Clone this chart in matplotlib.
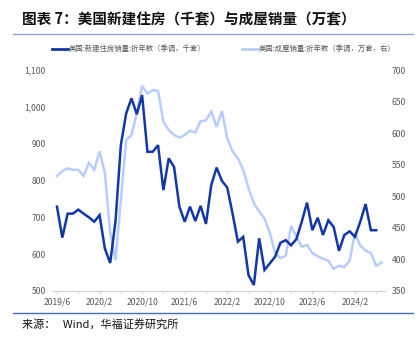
import matplotlib
matplotlib.use("Agg")
import matplotlib.pyplot as plt
from matplotlib.lines import Line2D
import numpy as np

plt.rcParams['font.family'] = ['Noto Sans CJK SC', 'DejaVu Sans']

# Monthly data 2019/6 .. 2024/7
new_home_sales = [729, 645, 710, 710, 721, 710, 700, 688, 706, 615,
                  576, 690, 896, 982, 1023, 980, 1032, 878, 878, 896,
                  774, 860, 837, 729, 688, 729, 690, 731, 682, 788,
                  835, 799, 781, 710, 634, 647, 543, 516, 643, 557,
                  575, 593, 631, 638, 624, 641, 688, 740, 665, 699,
                  652, 692, 674, 609, 652, 662, 647, 688, 736, 665,
                  665]
existing_home_sales = [532, 540, 544, 542, 542, 532, 553, 542, 571, 537,
                       442, 399, 494, 589, 597, 631, 675, 663, 668, 667,
                       618, 605, 597, 593, 597, 604, 601, 619, 620, 634,
                       610, 635, 592, 571, 560, 542, 513, 489, 476, 465,
                       442, 410, 402, 406, 453, 436, 420, 423, 410, 405,
                       401, 398, 385, 390, 388, 398, 442, 422, 414, 410,
                       390, 395]
tick_labels = ['2019/6', '2020/2', '2020/10', '2021/6', '2022/2',
               '2022/10', '2023/6', '2024/2']
left_ticks = [500, 600, 700, 800, 900, 1000, 1100]
right_ticks = [350, 400, 450, 500, 550, 600, 650, 700]

title = '图表 7：美国新建住房（千套）与成屋销量（万套）'
legend1 = '美国:新建住房销量:折年数（季调，千套）'
legend2 = '美国:成屋销量:折年数（季调，万套，右）'
source = '来源：   Wind，华福证券研究所'

dark = '#1238A6'
light = '#B9CDFD'
gray = '#595959'

W, H = 416, 340
fig = plt.figure(figsize=(W / 100, H / 100), dpi=100)

def fx(px):
    return px / W

def fy(py):
    return 1 - py / H

# plot axes: x from 53 to 385 px, y from 70 to 291 px
ax = fig.add_axes([fx(53), fy(291), fx(385 - 53), (291 - 70) / H])
ax2 = ax.twinx()

x1 = np.arange(len(new_home_sales))
x2 = np.arange(len(existing_home_sales))
ax2.plot(x2, existing_home_sales, color=light, lw=1.8, solid_joinstyle='miter')
ax.plot(x1, new_home_sales, color=dark, lw=1.8, solid_joinstyle='miter')
ax.set_zorder(ax2.get_zorder() + 1)
ax.patch.set_visible(False)

ax.set_xlim(-0.75, 61.65)
ax.set_ylim(500, 1100)
ax2.set_ylim(350, 700)

ax.set_yticks(left_ticks)
ax.set_yticklabels([f'{v:,}' for v in left_ticks])
ax2.set_yticks(right_ticks)
ax.set_xticks(np.arange(0, 57, 8))
ax.set_xticklabels(tick_labels)
ax.set_xticks(np.arange(0, 62, 4), minor=True)

for a in (ax, ax2):
    for s in a.spines.values():
        s.set_visible(False)
ax.spines['bottom'].set_visible(True)
ax.spines['bottom'].set_color('#D0D0D0')
ax.spines['bottom'].set_linewidth(0.8)

ax.tick_params(axis='y', length=0, labelsize=6.2, labelcolor=gray, pad=5)
ax2.tick_params(axis='y', length=0, labelsize=6.2, labelcolor=gray, pad=5)
ax.tick_params(axis='x', which='both', length=2.5, color='#D0D0D0',
               labelsize=6.2, labelcolor=gray, pad=2)

# title
fig.text(fx(22), fy(19), title, fontsize=10.5, fontweight='bold',
         color='#111111', va='center', ha='left')
fig.add_artist(Line2D([fx(13), fx(413)], [fy(34.3), fy(34.3)],
                      color='#8EA5CF', lw=1.0))

# legend
ly = fy(49)
fig.add_artist(Line2D([fx(52), fx(68)], [ly, ly], color=dark, lw=2))
fig.text(fx(69), ly, legend1, fontsize=5.3, color=gray, va='center', ha='left')
fig.add_artist(Line2D([fx(242), fx(258)], [ly, ly], color=light, lw=2))
fig.text(fx(259), ly, legend2, fontsize=5.3, color=gray, va='center', ha='left')

# source
fig.add_artist(Line2D([fx(13), fx(413)], [fy(313.3), fy(313.3)],
                      color='#3F6FC0', lw=1.0))
fig.text(fx(22), fy(324), source, fontsize=8, color='#111111',
         va='center', ha='left')

fig.savefig('out.png', dpi=100)
